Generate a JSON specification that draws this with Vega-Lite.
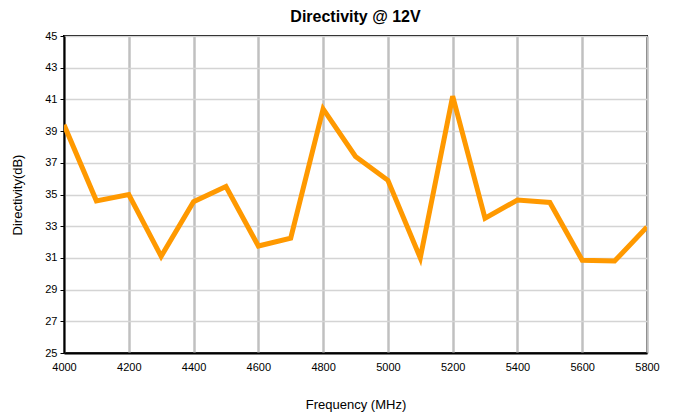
{
  "$schema": "https://vega.github.io/schema/vega-lite/v6.json",
  "width": 583,
  "height": 317,
  "autosize": {"type": "none"},
  "padding": {"left": 64, "top": 36, "right": 27, "bottom": 62},
  "background": "white",
  "title": {
    "text": "Directivity @ 12V",
    "font": "Liberation Sans",
    "fontSize": 16,
    "fontWeight": "bold",
    "color": "black",
    "anchor": "middle",
    "offset": 5
  },
  "config": {
    "view": {"stroke": "black", "strokeWidth": 2},
    "axis": {
      "labelFont": "Liberation Sans",
      "titleFont": "Liberation Sans",
      "labelFontSize": 11,
      "titleFontSize": 13,
      "titleFontWeight": "normal",
      "labelColor": "black",
      "titleColor": "black",
      "domainColor": "black",
      "domainWidth": 2,
      "tickColor": "black"
    }
  },
  "data": {
    "values": [
      {"freq": 4000, "dir": 39.4},
      {"freq": 4100, "dir": 34.6},
      {"freq": 4200, "dir": 35.0},
      {"freq": 4300, "dir": 31.1},
      {"freq": 4400, "dir": 34.55},
      {"freq": 4500, "dir": 35.5},
      {"freq": 4600, "dir": 31.75},
      {"freq": 4700, "dir": 32.25},
      {"freq": 4800, "dir": 40.4},
      {"freq": 4900, "dir": 37.4},
      {"freq": 5000, "dir": 35.9},
      {"freq": 5100, "dir": 31.0},
      {"freq": 5200, "dir": 41.2},
      {"freq": 5300, "dir": 33.5},
      {"freq": 5400, "dir": 34.65},
      {"freq": 5500, "dir": 34.5},
      {"freq": 5600, "dir": 30.85},
      {"freq": 5700, "dir": 30.8},
      {"freq": 5800, "dir": 32.95}
    ]
  },
  "mark": {"type": "line", "color": "#FF9900", "strokeWidth": 5, "strokeJoin": "miter", "clip": true},
  "encoding": {
    "x": {
      "field": "freq",
      "type": "quantitative",
      "scale": {"domain": [4000, 5800], "nice": false, "zero": false},
      "axis": {
        "title": "Frequency (MHz)",
        "values": [4000, 4200, 4400, 4600, 4800, 5000, 5200, 5400, 5600, 5800],
        "format": "d",
        "grid": true,
        "gridColor": "#c0c0c0",
        "gridWidth": 2.5,
        "ticks": false,
        "labelPadding": 8,
        "titleY": 45,
        "labelFlush": false
      }
    },
    "y": {
      "field": "dir",
      "type": "quantitative",
      "scale": {"domain": [25, 45], "nice": false, "zero": false},
      "axis": {
        "title": "Directivity(dB)",
        "values": [25, 27, 29, 31, 33, 35, 37, 39, 41, 43, 45],
        "grid": true,
        "gridColor": "#d4d4d4",
        "gridWidth": 1.5,
        "tickSize": 4,
        "labelPadding": 3,
        "titleX": -40
      }
    }
  }
}
